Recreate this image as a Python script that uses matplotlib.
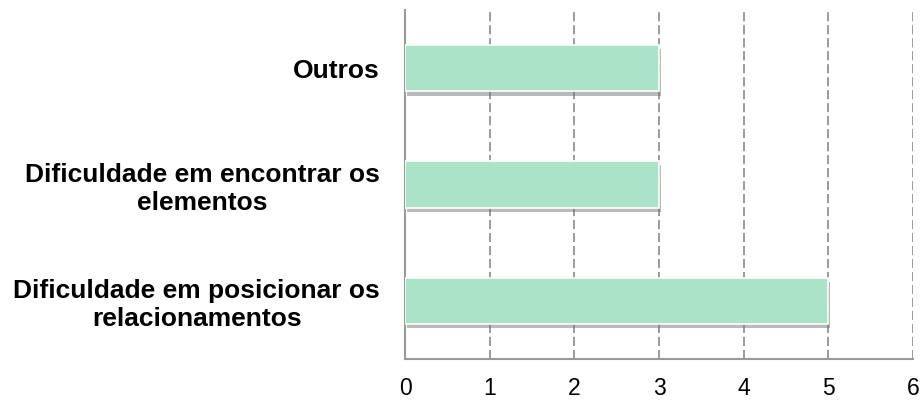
import matplotlib
matplotlib.use("Agg")
import matplotlib.pyplot as plt
import matplotlib.patheffects as pe

categorias = ["Dificuldade em posicionar os\nrelacionamentos",
              "Dificuldade em encontrar os\nelementos",
              "Outros"]
valores = [5, 3, 3]
ticks_x = [0, 1, 2, 3, 4, 5, 6]

plt.rcParams["font.family"] = ["Liberation Sans", "DejaVu Sans"]

fig = plt.figure(figsize=(9.22, 4.01), dpi=100)
ax = fig.add_axes([405 / 922, 1 - 359 / 401, 508 / 922, 349 / 401])

barras = ax.barh(range(len(categorias)), valores, height=0.4, color="#ABE3C8",
                 edgecolor="white", linewidth=1.2, zorder=3)
for b in barras:
    b.set_path_effects([pe.SimplePatchShadow(offset=(1.5, -3), shadow_rgbFace="#777777", alpha=0.5),
                        pe.Normal()])

ax.set_xlim(0, 6)
ax.set_ylim(-0.5, 2.5)
ax.set_xticks(ticks_x)
ax.set_xticklabels([str(t) for t in ticks_x], fontsize=16.5)
ax.set_yticks(range(len(categorias)))
ax.set_yticklabels(categorias, fontsize=19, fontweight="bold", ha="right", multialignment="center")
ax.tick_params(axis="y", length=0, pad=18)
ax.tick_params(axis="x", length=0, pad=13)

ax.grid(axis="x", linestyle=(0, (6, 2.5)), color="#808080", linewidth=1.1, zorder=0)
for s in ["top", "right"]:
    ax.spines[s].set_visible(False)
ax.spines["left"].set_color("#999999")
ax.spines["bottom"].set_color("#999999")
ax.spines["left"].set_linewidth(1.5)
ax.spines["bottom"].set_linewidth(1.5)

fig.savefig("out.png", dpi=100)
